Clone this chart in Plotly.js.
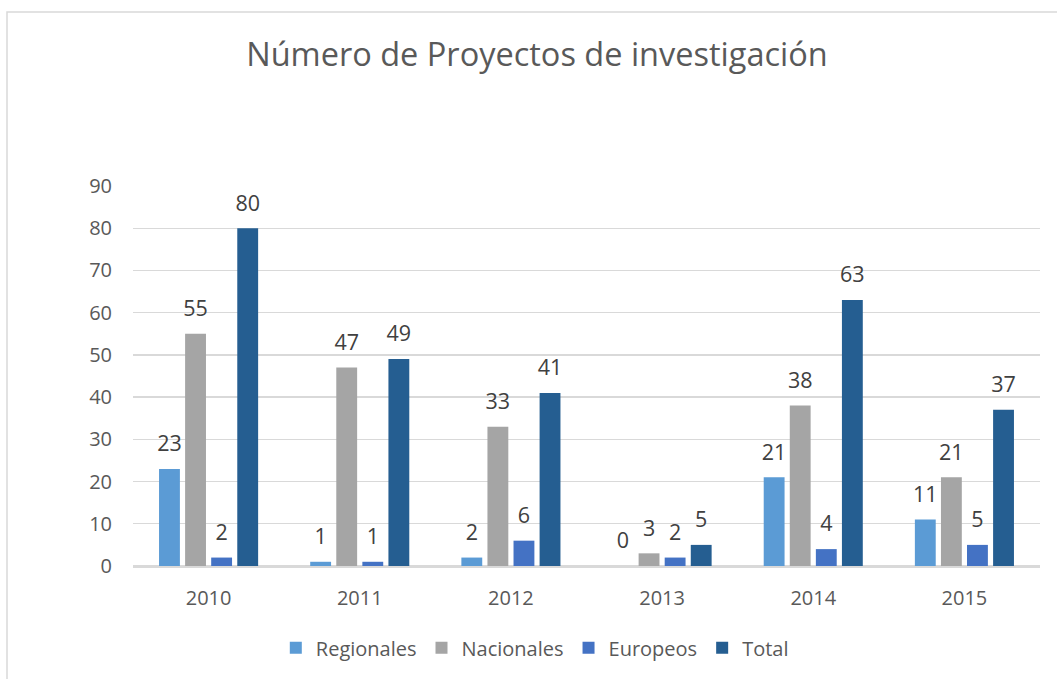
<!DOCTYPE html>
<html>
<head>
<meta charset="utf-8">
<script src="https://cdn.plot.ly/plotly-3.0.1.min.js"></script>
<style>html,body{margin:0;padding:0;background:#fff;}#chart{width:1057px;height:679px;}</style>
</head>
<body>
<div id="chart"></div>
<script>
const years = ['2010', '2011', '2012', '2013', '2014', '2015'];
const regionales = [23, 1, 2, 0, 21, 11];
const nacionales = [55, 47, 33, 3, 38, 21];
const europeos = [2, 1, 6, 2, 4, 5];
const total = [80, 49, 41, 5, 63, 37];
const seriesNames = ['Regionales', 'Nacionales', 'Europeos', 'Total'];
const seriesColors = ['#5B9BD5', '#A5A5A5', '#4472C4', '#255E91'];
const seriesValues = [regionales, nacionales, europeos, total];

const FONT = 'Open Sans, Lato, sans-serif';
const GAP = 0.31;

const barTraces = seriesValues.map((vals, i) => ({
  type: 'bar',
  name: seriesNames[i],
  x: years,
  y: vals,
  marker: {color: seriesColors[i]},
  hoverinfo: 'x+y+name'
}));

const labelTraces = seriesValues.map((vals, i) => ({
  type: 'scatter',
  mode: 'markers+text',
  name: seriesNames[i] + ' labels',
  x: years,
  y: vals,
  orientation: 'v',
  text: vals.map(v => String(v)),
  textposition: 'top center',
  textfont: {family: FONT, size: 21.5, color: '#404040'},
  marker: {size: 18, color: 'rgba(0,0,0,0)', line: {width: 0}},
  cliponaxis: false,
  showlegend: false,
  hoverinfo: 'skip'
}));

const layout = {
  width: 1057,
  height: 679,
  margin: {l: 133, r: 17, t: 186, b: 111},
  paper_bgcolor: '#ffffff',
  plot_bgcolor: '#ffffff',
  font: {family: FONT, color: '#595959'},
  title: {
    text: 'Número de Proyectos de investigación',
    font: {family: FONT, size: 32.5, color: '#595959'},
    x: 537 / 1057, xanchor: 'center',
    y: 1 - 55 / 679, yref: 'container', yanchor: 'middle'
  },
  barmode: 'group',
  bargap: GAP,
  bargroupgap: 0.2,
  scattermode: 'group',
  scattergap: GAP,
  xaxis: {
    type: 'category',
    tickfont: {family: FONT, size: 20, color: '#595959'},
    showline: true, linecolor: '#D9D9D9', linewidth: 1.5,
    ticks: '', ticklen: 0,
    ticklabelstandoff: 13,
    showgrid: false
  },
  yaxis: {
    range: [0, 90],
    dtick: 10,
    tick0: 0,
    tickfont: {family: FONT, size: 20, color: '#595959'},
    showgrid: true, gridcolor: '#D9D9D9', gridwidth: 1.3,
    zeroline: true, zerolinecolor: '#D9D9D9', zerolinewidth: 1.5,
    showline: false,
    ticks: '', ticklabelstandoff: 20,
    fixedrange: true
  },
  showlegend: true,
  legend: {
    orientation: 'h',
    x: 0.443, xanchor: 'center',
    y: -0.215, yanchor: 'middle',
    font: {family: FONT, size: 20, color: '#595959'},
    itemwidth: 30,
    traceorder: 'normal'
  },
  shapes: [{
    type: 'rect', xref: 'paper', yref: 'paper',
    x0: (7 - 133) / 907, x1: 1.2,
    y0: -0.6, y1: (568 - 11) / 382,
    line: {color: '#D9D9D9', width: 1.5},
    fillcolor: 'rgba(0,0,0,0)',
    layer: 'below'
  }]
};

Plotly.newPlot('chart', barTraces.concat(labelTraces), layout, {displayModeBar: false, staticPlot: true});
</script>
</body>
</html>
